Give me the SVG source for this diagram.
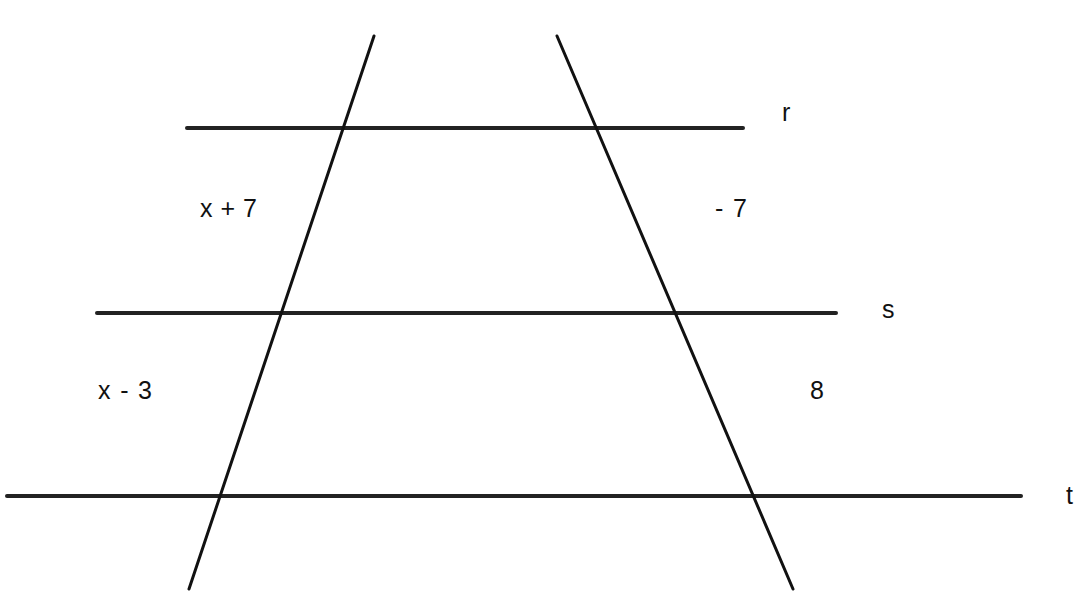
<svg xmlns="http://www.w3.org/2000/svg" width="1084" height="605" viewBox="0 0 1084 605">
<style>
.h{stroke:#222;stroke-width:4;stroke-linecap:round}
.d{stroke:#111;stroke-width:3;stroke-linecap:round}
.lbl{font-family:"Liberation Sans",Arial,sans-serif;font-size:25px;fill:#111}
</style>
<rect width="1084" height="605" fill="#fff"/>
<g id="connectors">
<line id="line-r" class="h" x1="187" y1="128" x2="743" y2="128"/>
<line id="line-s" class="h" x1="97" y1="313" x2="836" y2="313"/>
<line id="line-t" class="h" x1="7" y1="496" x2="1021" y2="496"/>
<line id="transversal-left" class="d" x1="374" y1="36" x2="189" y2="589"/>
<line id="transversal-right" class="d" x1="557" y1="36" x2="793" y2="589"/>
</g>
<g id="labels">
<text id="label-r" class="lbl" x="782" y="121">r</text>
<text id="label-s" class="lbl" x="882" y="318">s</text>
<text id="label-t" class="lbl" x="1066" y="504">t</text>
<text id="label-x7" class="lbl" x="200" y="217" textLength="57" lengthAdjust="spacing">x + 7</text>
<text id="label-m7" class="lbl" x="715" y="217" textLength="32" lengthAdjust="spacing">- 7</text>
<text id="label-x3" class="lbl" x="98" y="399" textLength="54" lengthAdjust="spacing">x - 3</text>
<text id="label-8" class="lbl" x="810" y="399">8</text>
</g>
</svg>
